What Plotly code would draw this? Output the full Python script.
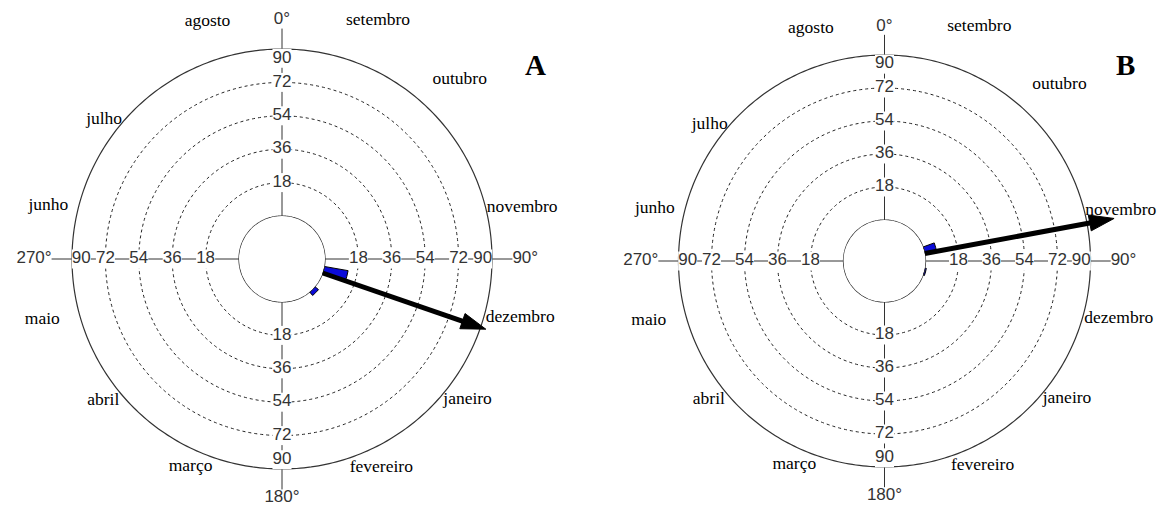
import numpy as np
import plotly.graph_objects as go

# Radial scale (days) and grid
R_MAX = 90
RING_TICKS = [18, 36, 54, 72, 90]
SPOKES = [0, 90, 180, 270]
SPOKE_LABELS = ["0°", "90°", "180°", "270°"]
SPOKE_LABEL_POS = ["top center", "middle right", "bottom center", "middle left"]
SPOKE_END = 101
BIN_WIDTH = 10

# Month names and where their labels are anchored around the dial
MONTHS = ["setembro", "outubro", "novembro", "dezembro", "janeiro", "fevereiro",
          "março", "abril", "maio", "junho", "julho", "agosto"]
MONTH_LABEL_THETA = [15, 40, 76, 106, 131, 162, 198.5, 229, 254.7, 284, 311, 347.7]
MONTH_LABEL_R = [110, 103, 90.5, 91, 92, 95, 95, 93, 101, 95.5, 91, 107.5]

# Panel A: histogram bins and mean vector
A_BAR_THETA = [105, 135]
A_BAR_R = [13, 2.5]
A_MEAN_THETA = 109
A_MEAN_LEN = 93

# Panel B: histogram bins and mean vector
B_BAR_THETA = [75, 105]
B_BAR_R = [6.5, 0.8]
B_MEAN_THETA = 79.5
B_MEAN_LEN = 105

SANS = "Liberation Sans, Arial, sans-serif"
SERIF = "Liberation Serif, Times New Roman, serif"
LINE = "#333"

W, H = 1161, 515
AREA_PX = 254  # pixel radius of each polar area (room for outer labels)

fig = go.Figure()


def add_panel(pid, bar_theta, bar_r, mean_theta, mean_len):
    circ = np.linspace(0, 360, 361)
    # circle around the central hole and the solid outer circle
    for rr in (0, R_MAX):
        fig.add_trace(go.Scatterpolar(
            r=np.full_like(circ, rr), theta=circ, mode="lines",
            line=dict(color=LINE, width=1.2), subplot=pid, cliponaxis=False,
            hoverinfo="skip", showlegend=False))

    # the four spokes, reaching past the outer circle, with their degree labels
    for s, lab, pos in zip(SPOKES, SPOKE_LABELS, SPOKE_LABEL_POS):
        fig.add_trace(go.Scatterpolar(
            r=[0, SPOKE_END], theta=[s, s], mode="lines+text",
            text=["", lab], textposition=pos,
            line=dict(color=LINE, width=1),
            textfont=dict(family=SANS, size=17, color="#333"),
            subplot=pid, cliponaxis=False, hoverinfo="skip", showlegend=False))

    # value labels along the four spokes, on white patches
    lab_r, lab_t, lab_txt = [], [], []
    for s in SPOKES:
        for v in RING_TICKS:
            lab_r.append(min(v, R_MAX - 5))
            lab_t.append(s)
            lab_txt.append(str(v))
    fig.add_trace(go.Scatterpolar(
        r=lab_r, theta=lab_t, text=lab_txt, mode="markers+text",
        textposition="middle center",
        marker=dict(symbol="square", size=19, color="white", line=dict(width=0)),
        textfont=dict(family=SANS, size=17, color="#333"),
        subplot=pid, cliponaxis=False, hoverinfo="skip", showlegend=False))

    # month names: right half reads outward to the right, left half to the left
    month_pos = ["middle right" if t < 180 else "middle left" for t in MONTH_LABEL_THETA]
    fig.add_trace(go.Scatterpolar(
        r=MONTH_LABEL_R, theta=MONTH_LABEL_THETA, text=MONTHS,
        mode="text", textposition=month_pos,
        textfont=dict(family=SERIF, size=17.5, color="black"),
        subplot=pid, cliponaxis=False, hoverinfo="skip", showlegend=False))

    # histogram bars
    fig.add_trace(go.Barpolar(
        r=bar_r, theta=bar_theta, width=[BIN_WIDTH] * len(bar_r),
        marker=dict(color="#0b0bd9", line=dict(color="#000", width=1)),
        subplot=pid, showlegend=False))

    # mean vector arrow
    fig.add_trace(go.Scatterpolar(
        r=[0, mean_len], theta=[mean_theta, mean_theta], mode="lines+markers",
        line=dict(color="black", width=5),
        marker=dict(symbol=["circle", "arrow"], size=[0, 26], color="black",
                    opacity=1, line=dict(color="black", width=1),
                    angleref="previous"),
        subplot=pid, cliponaxis=False, hoverinfo="skip", showlegend=False))


def polar_layout(cx, cy, outer_px, hole_px):
    # range chosen so that R_MAX lands on outer_px and 0 on the hole edge
    r_top = R_MAX * (AREA_PX - hole_px) / (outer_px - hole_px)
    cyb = H - cy
    return dict(
        domain=dict(x=[(cx - AREA_PX) / W, (cx + AREA_PX) / W],
                    y=[max(0, (cyb - AREA_PX) / H), min(1, (cyb + AREA_PX) / H)]),
        hole=hole_px / AREA_PX,
        bgcolor="rgba(0,0,0,0)",
        radialaxis=dict(range=[0, r_top], tickmode="array", tickvals=RING_TICKS[:-1],
                        showticklabels=False, ticks="", showline=False,
                        showgrid=True, gridcolor="#222", gridwidth=1,
                        griddash="3px,3px"),
        angularaxis=dict(rotation=90, direction="clockwise", showgrid=False,
                         showline=False, ticks="", showticklabels=False),
    )


add_panel("polar", A_BAR_THETA, A_BAR_R, A_MEAN_THETA, A_MEAN_LEN)
add_panel("polar2", B_BAR_THETA, B_BAR_R, B_MEAN_THETA, B_MEAN_LEN)

fig.update_layout(
    width=W, height=H,
    margin=dict(l=0, r=0, t=0, b=0),
    paper_bgcolor="white",
    polar=polar_layout(282, 259, 210, 43),
    polar2=polar_layout(884.5, 261, 206, 41),
    annotations=[
        dict(text="<b>A</b>", x=535 / W, y=1 - 47 / H, xref="paper", yref="paper",
             showarrow=False, font=dict(family=SERIF, size=29, color="black")),
        dict(text="<b>B</b>", x=1137 / W, y=1 - 47 / H, xref="paper", yref="paper",
             showarrow=False, font=dict(family=SERIF, size=29, color="black")),
    ],
)

fig.write_html("out.html")
